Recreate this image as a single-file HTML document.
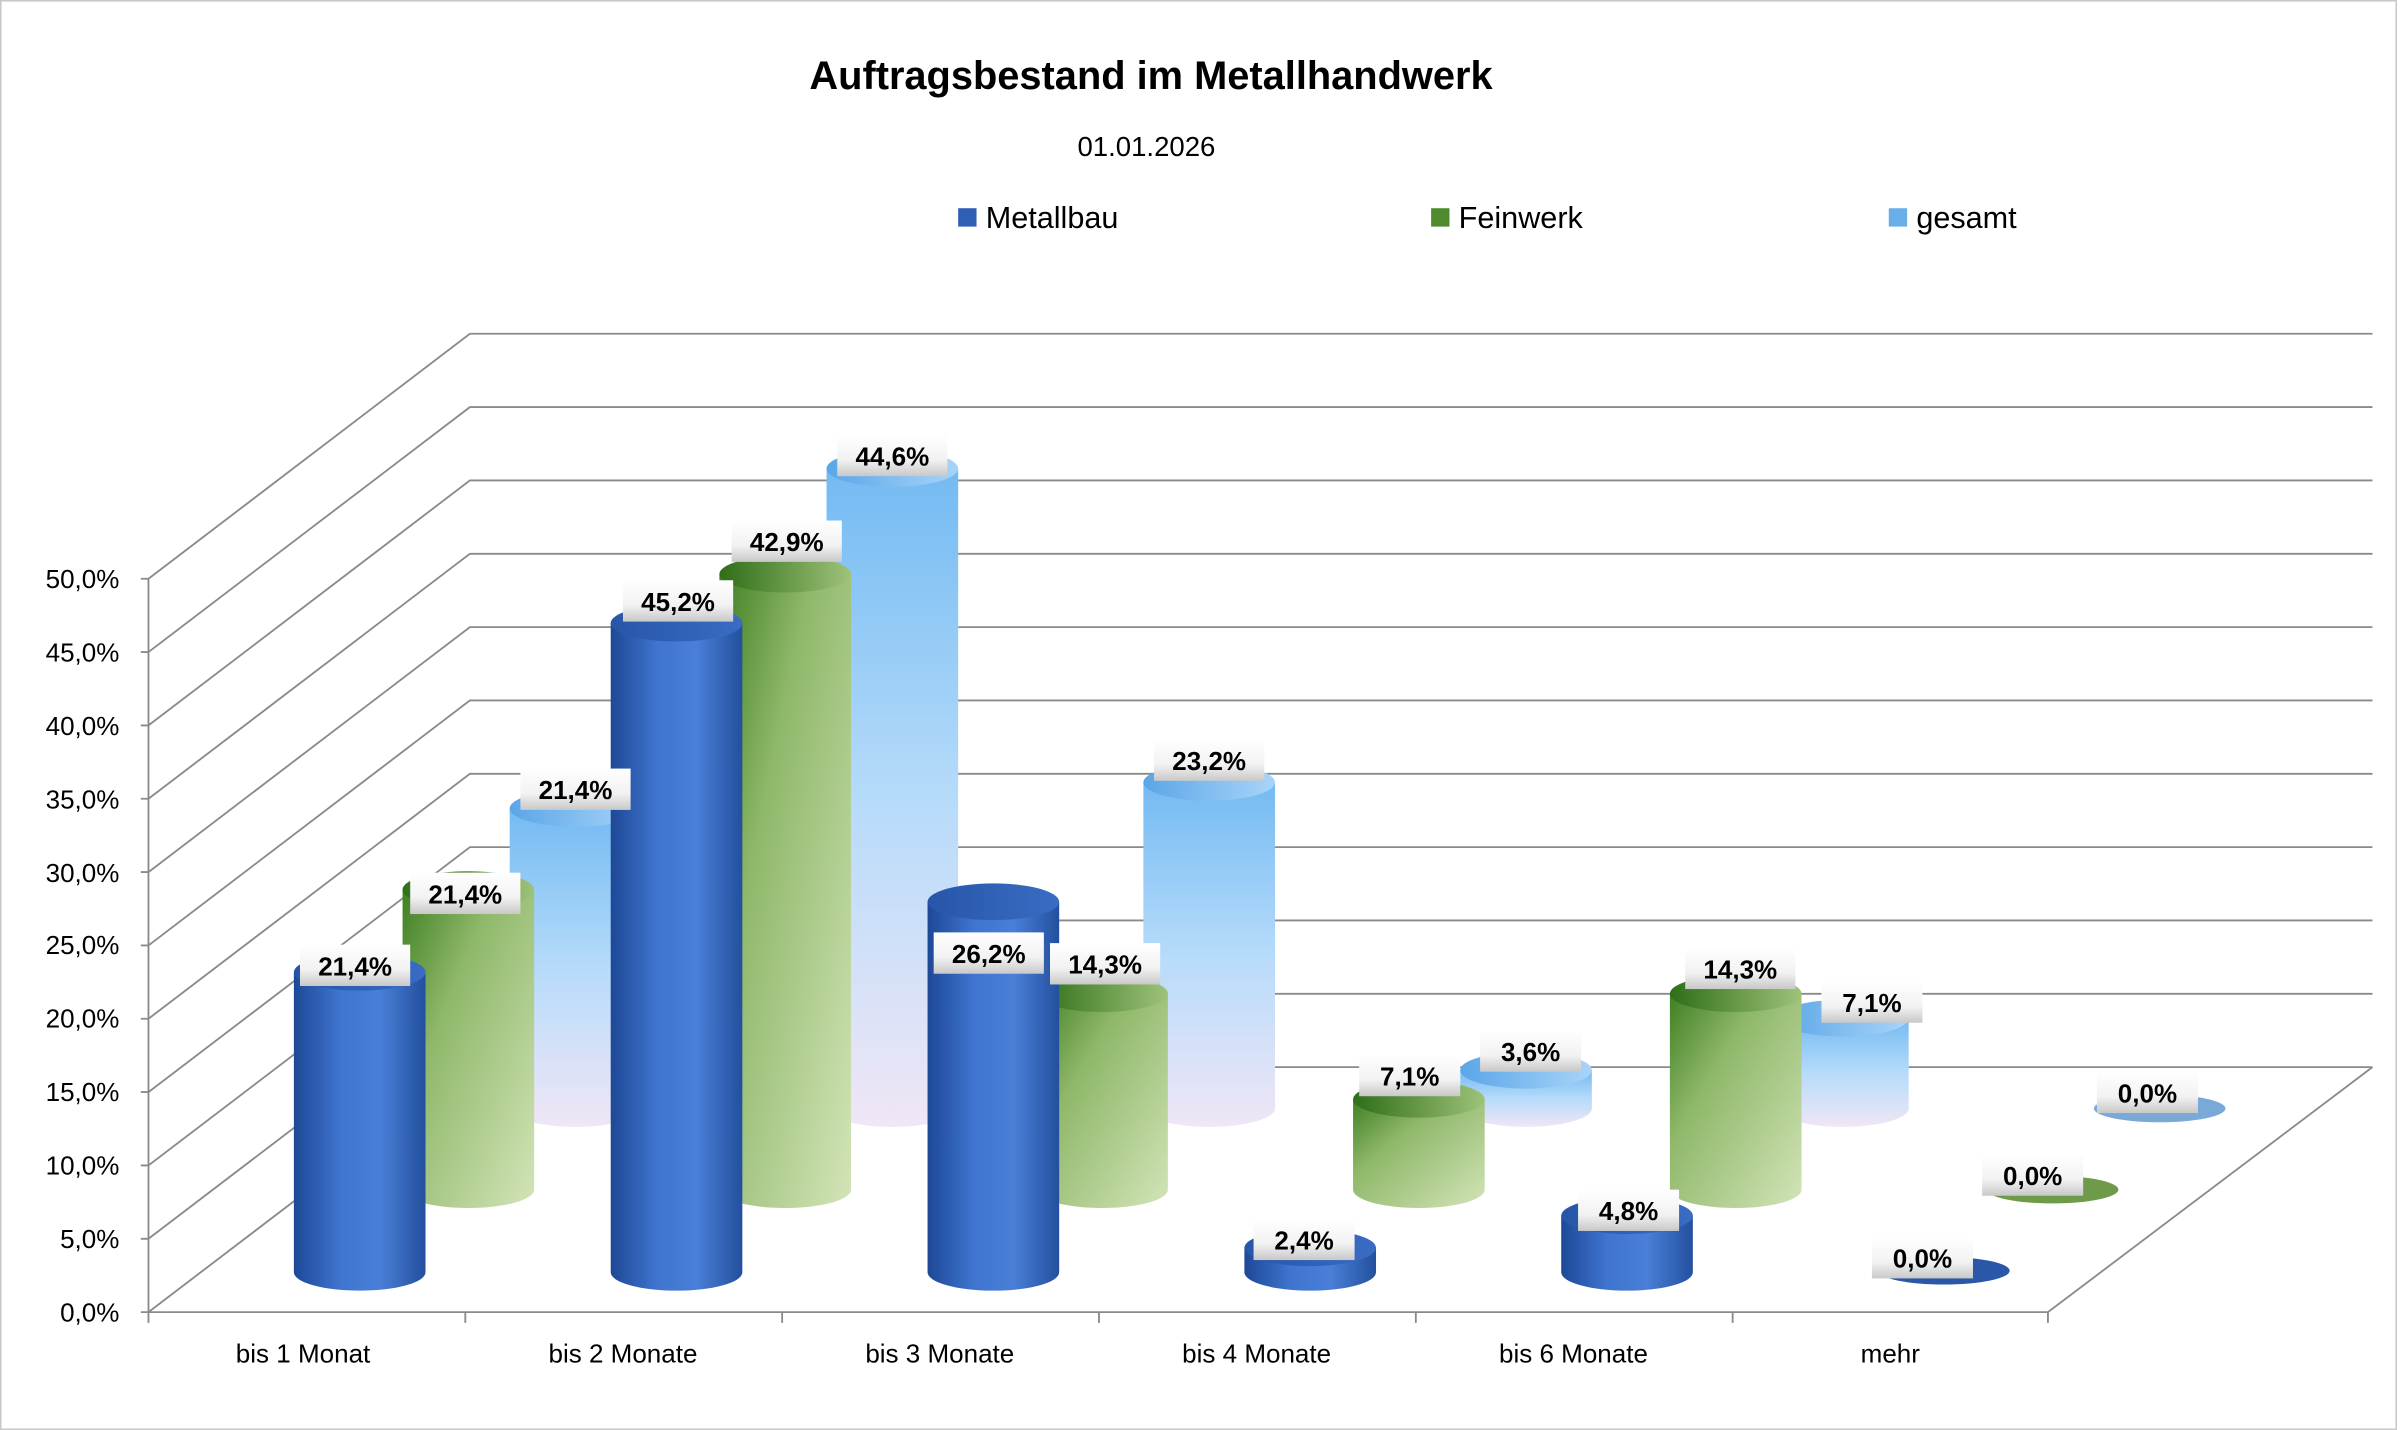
<!DOCTYPE html>
<html><head><meta charset="utf-8"><style>
html,body{margin:0;padding:0;background:#fff;}
svg{display:block;}
text{font-family:"Liberation Sans",sans-serif;}
</style></head><body>
<svg width="2400" height="1430" viewBox="0 0 1568 934" preserveAspectRatio="none" xmlns="http://www.w3.org/2000/svg">
<defs>
<linearGradient id="gM" x1="0" x2="1" y1="0" y2="0"><stop offset="0" stop-color="#1d4896"/><stop offset="0.35" stop-color="#3f74cf"/><stop offset="0.65" stop-color="#4a7fd8"/><stop offset="1" stop-color="#23509e"/></linearGradient>
<linearGradient id="tM" x1="0" x2="1"><stop offset="0" stop-color="#2756a8"/><stop offset="1" stop-color="#3a6cc4"/></linearGradient>
<linearGradient id="gF" x1="0" x2="1" y1="0" y2="1"><stop offset="0" stop-color="#3f7f22"/><stop offset="0.35" stop-color="#8fb86a"/><stop offset="1" stop-color="#d3e4b8"/></linearGradient>
<linearGradient id="tF" x1="0" x2="1"><stop offset="0" stop-color="#2f6e18"/><stop offset="1" stop-color="#9ec27a"/></linearGradient>
<linearGradient id="gG" x1="0" x2="0" y1="0" y2="1"><stop offset="0" stop-color="#73baf2"/><stop offset="0.5" stop-color="#b6dbfa"/><stop offset="1" stop-color="#f0e6f6"/></linearGradient>
<linearGradient id="tG" x1="0" x2="1"><stop offset="0" stop-color="#5aa6e8"/><stop offset="1" stop-color="#a9d4f8"/></linearGradient>
<linearGradient id="lb" x1="0" x2="0" y1="0" y2="1"><stop offset="0" stop-color="#ffffff"/><stop offset="0.6" stop-color="#f2f2f2"/><stop offset="1" stop-color="#c8c8c8"/></linearGradient>
</defs>
<rect x="0.5" y="0.5" width="1565" height="933" fill="#fff" stroke="#c8c8c8"/>
<text x="752" y="58" font-size="26" font-weight="bold" text-anchor="middle" fill="#000">Auftragsbestand im Metallhandwerk</text>
<text x="749" y="102" font-size="18" text-anchor="middle" fill="#000">01.01.2026</text>
<rect x="626" y="136" width="12" height="12" fill="#2f5fb5"/><text x="644" y="149" font-size="20" fill="#000">Metallbau</text>
<rect x="935" y="136" width="12" height="12" fill="#4f8a2e"/><text x="953" y="149" font-size="20" fill="#000">Feinwerk</text>
<rect x="1234" y="136" width="12" height="12" fill="#6aaee8"/><text x="1252" y="149" font-size="20" fill="#000">gesamt</text>
<g stroke="#8a8a8a" stroke-width="1.2" fill="none">
<path d="M97 857L307 697H1550M97 809.1L307 649.1H1550M97 761.2L307 601.2H1550M97 713.3L307 553.3H1550M97 665.4L307 505.4H1550M97 617.5L307 457.5H1550M97 569.6L307 409.6H1550M97 521.7L307 361.7H1550M97 473.8L307 313.8H1550M97 425.9L307 265.9H1550M97 378L307 218H1550"/>
<path d="M97 378V857H1338L1550 697"/>
<path d="M92 857H97M92 809.1H97M92 761.2H97M92 713.3H97M92 665.4H97M92 617.5H97M92 569.6H97M92 521.7H97M92 473.8H97M92 425.9H97M92 378H97"/>
<path d="M97 857V864M304 857V864M511 857V864M718 857V864M925 857V864M1132 857V864M1338 857V864"/>
</g>
<g font-size="17" text-anchor="end" fill="#000">
<text x="78" y="863">0,0%</text><text x="78" y="815">5,0%</text><text x="78" y="767">10,0%</text><text x="78" y="719">15,0%</text><text x="78" y="671">20,0%</text><text x="78" y="623">25,0%</text><text x="78" y="576">30,0%</text><text x="78" y="528">35,0%</text><text x="78" y="480">40,0%</text><text x="78" y="432">45,0%</text><text x="78" y="384">50,0%</text>
</g>
<g font-size="17" text-anchor="middle" fill="#000">
<text x="198" y="890">bis 1 Monat</text><text x="407" y="890">bis 2 Monate</text><text x="614" y="890">bis 3 Monate</text><text x="821" y="890">bis 4 Monate</text><text x="1028" y="890">bis 6 Monate</text><text x="1235" y="890">mehr</text>
</g>
<!-- gesamt row -->
<g>
<path d="M333 528V724A43 12 0 0 0 419 724V528Z" fill="url(#gG)"/><ellipse cx="376" cy="528" rx="43" ry="12" fill="url(#tG)"/>
<path d="M540 306V724A43 12 0 0 0 626 724V306Z" fill="url(#gG)"/><ellipse cx="583" cy="306" rx="43" ry="12" fill="url(#tG)"/>
<path d="M747 511V724A43 12 0 0 0 833 724V511Z" fill="url(#gG)"/><ellipse cx="790" cy="511" rx="43" ry="12" fill="url(#tG)"/>
<path d="M954 699V724A43 12 0 0 0 1040 724V699Z" fill="url(#gG)"/><ellipse cx="997" cy="699" rx="43" ry="12" fill="url(#tG)"/>
<path d="M1161 665V724A43 12 0 0 0 1247 724V665Z" fill="url(#gG)"/><ellipse cx="1204" cy="665" rx="43" ry="12" fill="url(#tG)"/>
<ellipse cx="1411" cy="724" rx="43" ry="9" fill="#7aa9d8"/>
</g>
<!-- Feinwerk row -->
<g>
<path d="M263 581V777A43 12 0 0 0 349 777V581Z" fill="url(#gF)"/><ellipse cx="306" cy="581" rx="43" ry="12" fill="url(#tF)"/>
<path d="M470 375V777A43 12 0 0 0 556 777V375Z" fill="url(#gF)"/><ellipse cx="513" cy="375" rx="43" ry="12" fill="url(#tF)"/>
<path d="M677 649V777A43 12 0 0 0 763 777V649Z" fill="url(#gF)"/><ellipse cx="720" cy="649" rx="43" ry="12" fill="url(#tF)"/>
<path d="M884 718V777A43 12 0 0 0 970 777V718Z" fill="url(#gF)"/><ellipse cx="927" cy="718" rx="43" ry="12" fill="url(#tF)"/>
<path d="M1091 649V777A43 12 0 0 0 1177 777V649Z" fill="url(#gF)"/><ellipse cx="1134" cy="649" rx="43" ry="12" fill="url(#tF)"/>
<ellipse cx="1341" cy="777" rx="43" ry="9" fill="#6e9a4a"/>
</g>
<!-- Metallbau row -->
<g>
<path d="M192 635V831A43 12 0 0 0 278 831V635Z" fill="url(#gM)"/><ellipse cx="235" cy="635" rx="43" ry="12" fill="url(#tM)"/>
<path d="M399 407V831A43 12 0 0 0 485 831V407Z" fill="url(#gM)"/><ellipse cx="442" cy="407" rx="43" ry="12" fill="url(#tM)"/>
<path d="M606 589V831A43 12 0 0 0 692 831V589Z" fill="url(#gM)"/><ellipse cx="649" cy="589" rx="43" ry="12" fill="url(#tM)"/>
<path d="M813 815V831A43 12 0 0 0 899 831V815Z" fill="url(#gM)"/><ellipse cx="856" cy="815" rx="43" ry="12" fill="url(#tM)"/>
<path d="M1020 794V831A43 12 0 0 0 1106 831V794Z" fill="url(#gM)"/><ellipse cx="1063" cy="794" rx="43" ry="12" fill="url(#tM)"/>
<ellipse cx="1270" cy="830" rx="43" ry="9" fill="#2a57a8"/>
</g>
<!-- labels -->
<g font-size="17" font-weight="bold" text-anchor="middle" fill="#000">
<rect x="340" y="502" width="72" height="27" fill="url(#lb)"/><text x="376" y="522">21,4%</text>
<rect x="547" y="284" width="72" height="27" fill="url(#lb)"/><text x="583" y="304">44,6%</text>
<rect x="754" y="483" width="72" height="27" fill="url(#lb)"/><text x="790" y="503">23,2%</text>
<rect x="967" y="673" width="66" height="27" fill="url(#lb)"/><text x="1000" y="693">3,6%</text>
<rect x="1190" y="641" width="66" height="27" fill="url(#lb)"/><text x="1223" y="661">7,1%</text>
<rect x="1370" y="700" width="66" height="27" fill="url(#lb)"/><text x="1403" y="720">0,0%</text>
<rect x="268" y="570" width="72" height="27" fill="url(#lb)"/><text x="304" y="590">21,4%</text>
<rect x="478" y="340" width="72" height="27" fill="url(#lb)"/><text x="514" y="360">42,9%</text>
<rect x="686" y="616" width="72" height="27" fill="url(#lb)"/><text x="722" y="636">14,3%</text>
<rect x="888" y="689" width="66" height="27" fill="url(#lb)"/><text x="921" y="709">7,1%</text>
<rect x="1101" y="619" width="72" height="27" fill="url(#lb)"/><text x="1137" y="639">14,3%</text>
<rect x="1295" y="754" width="66" height="27" fill="url(#lb)"/><text x="1328" y="774">0,0%</text>
<rect x="196" y="617" width="72" height="27" fill="url(#lb)"/><text x="232" y="637">21,4%</text>
<rect x="407" y="379" width="72" height="27" fill="url(#lb)"/><text x="443" y="399">45,2%</text>
<rect x="610" y="609" width="72" height="27" fill="url(#lb)"/><text x="646" y="629">26,2%</text>
<rect x="819" y="796" width="66" height="27" fill="url(#lb)"/><text x="852" y="816">2,4%</text>
<rect x="1031" y="777" width="66" height="27" fill="url(#lb)"/><text x="1064" y="797">4,8%</text>
<rect x="1223" y="808" width="66" height="27" fill="url(#lb)"/><text x="1256" y="828">0,0%</text>
</g>
</svg>
</body></html>
